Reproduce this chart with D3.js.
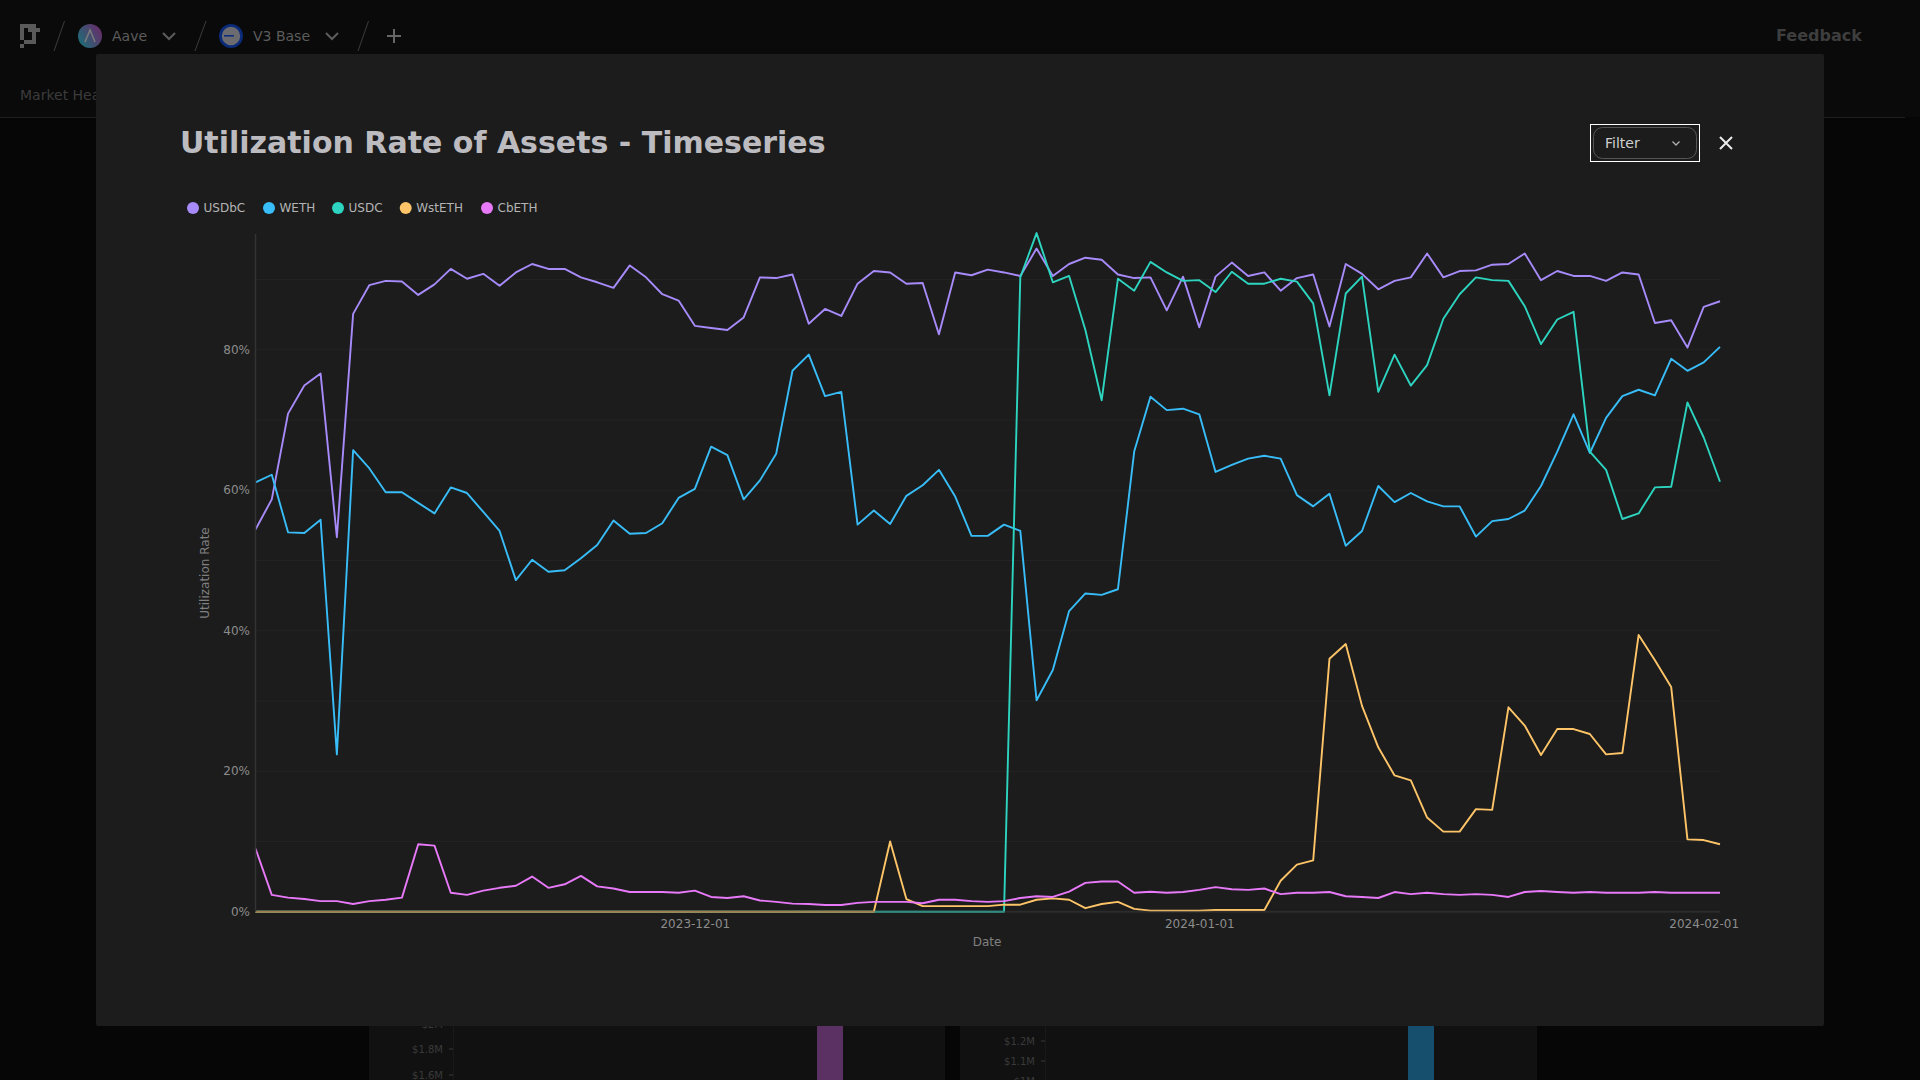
<!DOCTYPE html>
<html>
<head>
<meta charset="utf-8">
<script src="https://d3js.org/d3.v7.min.js"></script>
<style>
  html, body { margin: 0; padding: 0; background: #060606; overflow: hidden; }
  text { font-family: "DejaVu Sans", sans-serif; }
  .axis text { fill: #8c8c8c; font-size: 12px; font-family: "DejaVu Sans", sans-serif; }
  .axis path, .axis line { display: none; }
</style>
</head>
<body>
<svg id="page" width="1920" height="1080"></svg>
<script>
// utilization rate in percent, one value a day from 2023-11-04 to 2024-02-02
const seriesNames = ["USDbC", "WETH", "USDC", "WstETH", "CbETH"];
const seriesColors = ["#a78bfa", "#38bdf8", "#2dd4bf", "#fdc468", "#e879f9"];

const usdbc = [54.4, 58.7, 70.9, 74.9, 76.6, 53.3, 85.1, 89.2, 89.8, 89.7, 87.8, 89.3, 91.5, 90.1, 90.8, 89.1, 91.0, 92.2, 91.5, 91.5, 90.3, 89.6, 88.8, 92.0, 90.3, 87.9, 87.0, 83.4, 83.1, 82.8,
  84.6, 90.3, 90.2, 90.7, 83.7, 85.8, 84.8, 89.4, 91.2, 91.0, 89.4, 89.5, 82.2, 91.0, 90.6, 91.4, 91.0, 90.5, 94.4, 90.5, 92.2, 93.1, 92.8, 90.7, 90.2, 90.3, 85.6, 90.4, 83.2, 90.4,
  92.4, 90.5, 91.0, 88.4, 90.2, 90.7, 83.3, 92.2, 90.8, 88.6, 89.8, 90.3, 93.7, 90.3, 91.2, 91.3, 92.1, 92.2, 93.7, 89.9, 91.2, 90.5, 90.5, 89.8, 91.0, 90.7, 83.8, 84.2, 80.3, 86.1, 86.9];
const weth = [61.1, 62.2, 54.0, 53.9, 55.8, 22.4, 65.7, 63.1, 59.7, 59.7, 58.2, 56.7, 60.4, 59.6, 56.9, 54.2, 47.2, 50.1, 48.4, 48.6, 50.3, 52.2, 55.7, 53.8, 53.9, 55.3, 58.9, 60.2, 66.2, 65.0,
  58.7, 61.4, 65.2, 77.0, 79.3, 73.4, 74.0, 55.1, 57.1, 55.2, 59.2, 60.7, 62.9, 59.1, 53.5, 53.5, 55.1, 54.2, 30.1, 34.4, 42.8, 45.3, 45.1, 45.9, 65.5, 73.3, 71.4, 71.6, 70.8, 62.6,
  63.6, 64.5, 64.9, 64.5, 59.3, 57.7, 59.5, 52.1, 54.2, 60.6, 58.3, 59.6, 58.4, 57.7, 57.7, 53.4, 55.6, 55.9, 57.1, 60.6, 65.5, 70.8, 65.3, 70.3, 73.4, 74.3, 73.5, 78.7, 77.0, 78.2, 80.4];
const usdc = [0, 0, 0, 0, 0, 0, 0, 0, 0, 0, 0, 0, 0, 0, 0, 0, 0, 0, 0, 0, 0, 0, 0, 0, 0, 0, 0, 0, 0, 0,
  0, 0, 0, 0, 0, 0, 0, 0, 0, 0, 0, 0, 0, 0, 0, 0, 0, 90.3, 96.6, 89.6, 90.5, 82.8, 72.8, 90.1, 88.4, 92.5, 91.0, 89.8, 89.9, 88.2,
  91.1, 89.4, 89.4, 90.1, 89.7, 86.6, 73.5, 88.0, 90.4, 74.0, 79.3, 74.9, 77.8, 84.4, 87.9, 90.3, 89.9, 89.8, 86.2, 80.8, 84.3, 85.4, 65.5, 62.9, 55.9, 56.7, 60.4, 60.5, 72.5, 67.5, 61.2];
const wsteth = [0, 0, 0, 0, 0, 0, 0, 0, 0, 0, 0, 0, 0, 0, 0, 0, 0, 0, 0, 0, 0, 0, 0, 0, 0, 0, 0, 0, 0, 0,
  0, 0, 0, 0, 0, 0, 0, 0, 0, 10.0, 1.8, 0.8, 0.8, 0.8, 0.8, 0.8, 1.0, 1.0, 1.7, 1.9, 1.7, 0.5, 1.1, 1.4, 0.4, 0.15, 0.15, 0.15, 0.15, 0.25,
  0.25, 0.25, 0.25, 4.4, 6.7, 7.3, 36.0, 38.1, 29.3, 23.4, 19.4, 18.7, 13.4, 11.4, 11.4, 14.6, 14.5, 29.1, 26.5, 22.3, 26.0, 26.0, 25.3, 22.4, 22.6, 39.4, 35.8, 32.0, 10.3, 10.2, 9.6];
const cbeth = [9.0, 2.4, 2.0, 1.8, 1.5, 1.5, 1.1, 1.5, 1.7, 2.0, 9.6, 9.4, 2.7, 2.4, 3.0, 3.4, 3.7, 5.0, 3.4, 3.9, 5.1, 3.6, 3.3, 2.8, 2.8, 2.8, 2.7, 3.0, 2.1, 1.95,
  2.2, 1.6, 1.4, 1.15, 1.1, 0.95, 0.95, 1.25, 1.4, 1.4, 1.4, 1.2, 1.7, 1.7, 1.5, 1.4, 1.5, 1.95, 2.2, 2.1, 2.85, 4.1, 4.3, 4.3, 2.7, 2.85, 2.7, 2.8, 3.1, 3.5,
  3.2, 3.1, 3.3, 2.5, 2.7, 2.7, 2.8, 2.2, 2.1, 1.95, 2.8, 2.5, 2.7, 2.5, 2.4, 2.5, 2.4, 2.1, 2.8, 2.95, 2.8, 2.7, 2.8, 2.7, 2.7, 2.7, 2.8, 2.7, 2.7, 2.7, 2.7];

const dates = d3.utcDay.range(new Date(Date.UTC(2023, 10, 4)), new Date(Date.UTC(2024, 1, 3)));
const allSeries = [usdbc, weth, usdc, wsteth, cbeth];
const yTicks = [0, 20, 40, 60, 80];
const yGrid = [10, 20, 30, 40, 50, 60, 70, 80, 90];
const xTickLabels = ["2023-12-01", "2024-01-01", "2024-02-01"];

const svg = d3.select("#page");
const parseDay = d3.utcParse("%Y-%m-%d");
const formatDay = d3.utcFormat("%Y-%m-%d");

// dimmed dashboard behind the modal
function drawBackdrop() {
  const bg = svg.append("g");
  bg.append("rect").attr("width", 1920).attr("height", 117).attr("fill", "#0a0a0a");
  bg.append("rect").attr("y", 117).attr("width", 1905).attr("height", 1).attr("fill", "#1e1e1e");

  // logo, drawn on a 4px grid
  const logoRows = [[0, 1, 2, 3], [0, 2, 3, 4], [0, 3], [0, 3], [1, 2, 3], [0]];
  logoRows.forEach((cols, r) => {
    cols.forEach(c => {
      bg.append("rect").attr("x", 20 + c * 4).attr("y", 24 + r * 4).attr("width", 4).attr("height", 4).attr("fill", "#5a5a5a");
    });
  });

  [[54, 64.5], [195, 206], [358, 368.5]].forEach(s => {
    bg.append("line").attr("x1", s[0]).attr("y1", 51).attr("x2", s[1]).attr("y2", 21)
      .attr("stroke", "#3c3c3c").attr("stroke-width", 1);
  });

  const defs = svg.append("defs");
  const grad = defs.append("linearGradient").attr("id", "aaveGrad").attr("x1", 0).attr("y1", 0.8).attr("x2", 1).attr("y2", 0.2);
  grad.append("stop").attr("offset", "0%").attr("stop-color", "#1c6f78");
  grad.append("stop").attr("offset", "100%").attr("stop-color", "#6a2a68");
  bg.append("circle").attr("cx", 90).attr("cy", 36).attr("r", 12).attr("fill", "url(#aaveGrad)");
  bg.append("path").attr("d", "M85 42 L90 30 L95 42").attr("fill", "none").attr("stroke", "#7c7c7c").attr("stroke-width", 1.5);

  bg.append("circle").attr("cx", 231).attr("cy", 36).attr("r", 10.6).attr("fill", "#6c6c70").attr("stroke", "#0b2a78").attr("stroke-width", 2.8);
  bg.append("rect").attr("x", 224).attr("y", 35).attr("width", 10).attr("height", 1.6).attr("fill", "#0e2e80");

  const topText = [["Aave", 112, 41, "#5c5c5c"], ["V3 Base", 253, 41, "#5c5c5c"], ["Market Hea", 20, 100, "#3c3c3c"]];
  topText.forEach(t => {
    bg.append("text").attr("x", t[1]).attr("y", t[2]).attr("fill", t[3]).style("font-size", "14px").text(t[0]);
  });
  bg.append("text").attr("x", 1776).attr("y", 41).attr("fill", "#3e3e3e").style("font-size", "16px").style("font-weight", "bold").text("Feedback");

  [163, 326].forEach(x => {
    bg.append("path").attr("d", `M${x} 33 L${x + 6} 39 L${x + 12} 33`).attr("fill", "none").attr("stroke", "#5c5c5c").attr("stroke-width", 2);
  });
  bg.append("path").attr("d", "M394 29 V43 M387 36 H401").attr("stroke", "#666666").attr("stroke-width", 2);

  // the two panels that show under the modal
  bg.append("rect").attr("x", 369).attr("y", 1026).attr("width", 576).attr("height", 54).attr("fill", "#111111");
  bg.append("rect").attr("x", 960).attr("y", 1026).attr("width", 577).attr("height", 54).attr("fill", "#111111");
  bg.append("rect").attr("x", 453).attr("y", 1026).attr("width", 1).attr("height", 54).attr("fill", "#191919");
  bg.append("rect").attr("x", 1045).attr("y", 1026).attr("width", 1).attr("height", 54).attr("fill", "#191919");
  bg.append("rect").attr("x", 817).attr("y", 1026).attr("width", 26).attr("height", 54).attr("fill", "#5a3162");
  bg.append("rect").attr("x", 1408).attr("y", 1026).attr("width", 26).attr("height", 54).attr("fill", "#164f6e");
  [["$2M", 443, 1024], ["$1.8M", 443, 1049], ["$1.6M", 443, 1075], ["$1.2M", 1035, 1041], ["$1.1M", 1035, 1061], ["$1M", 1035, 1081]].forEach(t => {
    bg.append("text").attr("x", t[1]).attr("y", t[2]).attr("dy", "0.35em").attr("text-anchor", "end")
      .attr("fill", "#3a3a3a").style("font-size", "10px").text(t[0]);
    bg.append("rect").attr("x", t[1] + 6).attr("y", t[2] - 0.5).attr("width", 4).attr("height", 1).attr("fill", "#3a3a3a");
  });
}

function drawModal() {
  svg.append("rect").attr("x", 96).attr("y", 54).attr("width", 1728).attr("height", 972).attr("rx", 2).attr("fill", "#1c1c1c");

  svg.append("text").attr("x", 180).attr("y", 153).attr("fill", "#bcbcc0")
    .style("font-size", "30px").style("font-weight", "bold")
    .text("Utilization Rate of Assets - Timeseries");

  // filter button and close
  svg.append("rect").attr("x", 1590.5).attr("y", 124.5).attr("width", 109).attr("height", 37).attr("fill", "none").attr("stroke", "#ffffff").attr("stroke-width", 1);
  svg.append("rect").attr("x", 1593.5).attr("y", 127.5).attr("width", 103).attr("height", 31).attr("rx", 9).attr("fill", "none").attr("stroke", "#555555").attr("stroke-width", 1);
  svg.append("text").attr("x", 1605).attr("y", 148).attr("fill", "#d0d0d0").style("font-size", "14px").text("Filter");
  svg.append("path").attr("d", "M1672.5 141.5 L1676 145 L1679.5 141.5").attr("fill", "none").attr("stroke", "#b0b0b0").attr("stroke-width", 1.3);
  svg.append("path").attr("d", "M1720 137 L1732 149 M1732 137 L1720 149").attr("stroke", "#ececec").attr("stroke-width", 2);

  // legend
  const legendCircleX = [193, 269, 338, 405.7, 487];
  const legend = svg.append("g").selectAll("g").data(seriesNames).enter().append("g")
    .attr("transform", (d, i) => `translate(${legendCircleX[i]},208)`);
  legend.append("circle").attr("r", 6).attr("fill", (d, i) => seriesColors[i]);
  legend.append("text").attr("x", 10.5).attr("dy", "0.35em").attr("fill", "#b4b4b4").style("font-size", "12px").text(d => d);
}

function drawChart() {
  const x = d3.scaleUtc().domain(d3.extent(dates)).range([255.5, 1720]);
  const y = d3.scaleLinear().domain([0, 96.6]).range([911.7, 233.1]);

  const chart = svg.append("g");

  chart.append("g").selectAll("line").data(yGrid).enter().append("line")
    .attr("x1", x.range()[0]).attr("x2", x.range()[1])
    .attr("y1", d => y(d)).attr("y2", d => y(d))
    .attr("stroke", "#242424").attr("stroke-width", 1);

  const line = d3.line().x((d, i) => x(dates[i])).y(d => y(d));
  chart.append("g").selectAll("path").data(allSeries).enter().append("path")
    .attr("d", line)
    .attr("fill", "none")
    .attr("stroke", (d, i) => seriesColors[i])
    .attr("stroke-width", 1.9)
    .attr("stroke-linejoin", "round");

  // axis lines sit over the series, that is what dims them along zero
  chart.append("line").attr("x1", x.range()[0]).attr("x2", x.range()[0]).attr("y1", 234).attr("y2", y(0))
    .attr("stroke", "#333333").attr("stroke-width", 1.5);
  chart.append("line").attr("x1", x.range()[0]).attr("x2", x.range()[1]).attr("y1", y(0)).attr("y2", y(0))
    .attr("stroke", "#3c3c3c").attr("stroke-width", 2).attr("stroke-opacity", 0.5);

  chart.append("g").attr("class", "axis")
    .attr("transform", "translate(250,-0.5)")
    .call(d3.axisLeft(y).tickValues(yTicks).tickFormat(d => d + "%").tickSize(0).tickPadding(0));

  chart.append("g").attr("class", "axis")
    .attr("transform", `translate(0,${y(0) + 7.5})`)
    .call(d3.axisBottom(x).tickValues(xTickLabels.map(parseDay)).tickFormat(formatDay).tickSize(0).tickPadding(0));

  chart.append("text").attr("transform", "translate(205,573) rotate(-90)").attr("text-anchor", "middle")
    .attr("dy", "0.35em").attr("fill", "#808080").style("font-size", "12px").text("Utilization Rate");
  chart.append("text").attr("x", 987).attr("y", 941.5).attr("text-anchor", "middle")
    .attr("dy", "0.35em").attr("fill", "#808080").style("font-size", "12px").text("Date");
}

drawBackdrop();
drawModal();
drawChart();
</script>
</body>
</html>
